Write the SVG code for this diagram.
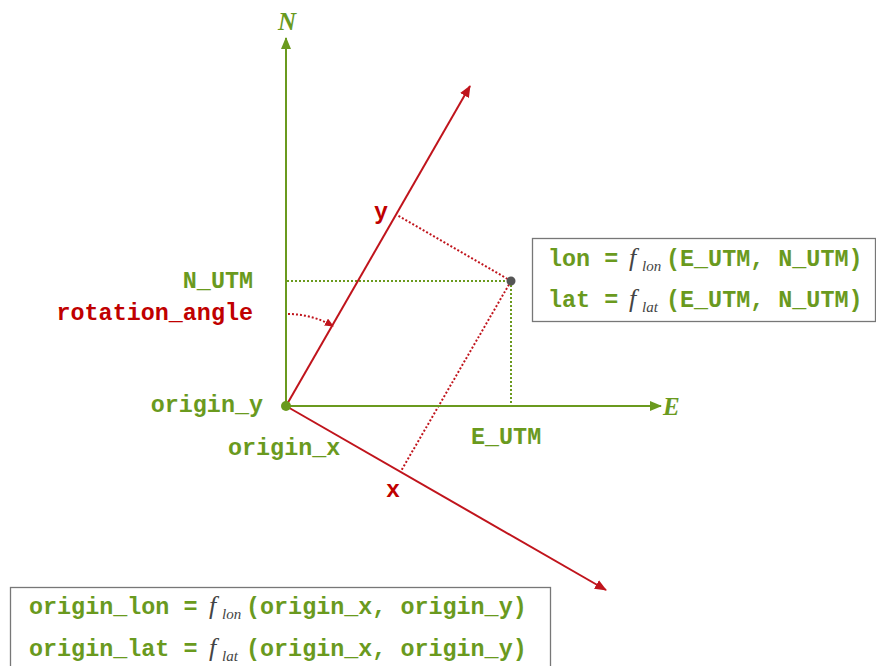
<svg xmlns="http://www.w3.org/2000/svg" width="876" height="666" viewBox="0 0 876 666">
<defs>
<style>
.g{fill:#6a9a1e}
.r{fill:#c00000}
.mono{font-family:"Liberation Mono","Courier New",monospace;font-weight:bold;font-size:23.4px}
.ax{font-family:"Liberation Serif","Times New Roman",serif;font-weight:bold;font-style:italic;font-size:25px}
.fn{font-family:"Liberation Serif","Times New Roman",serif;font-style:italic;font-weight:normal;fill:#444}
.f{font-size:26px}
.sub{font-size:15px}
.gl{stroke:#6a9a1e;stroke-width:2;fill:none}
.rl{stroke:#c0141c;stroke-width:2;fill:none}
.gd{stroke:#6a9a1e;stroke-width:2;stroke-dasharray:2 2;fill:none}
.rd{stroke:#c0141c;stroke-width:2;stroke-dasharray:2 2;fill:none}
.box{fill:#fff;stroke:#777;stroke-width:1.3}
</style>
<marker id="ag" markerUnits="userSpaceOnUse" markerWidth="12" markerHeight="10" refX="11" refY="5" orient="auto"><path d="M0,0 L12,5 L0,10 Z" fill="#6a9a1e"/></marker>
<marker id="ar" markerUnits="userSpaceOnUse" markerWidth="12" markerHeight="10" refX="11" refY="5" orient="auto"><path d="M0,0 L12,5 L0,10 Z" fill="#c0141c"/></marker>
<marker id="ars" markerUnits="userSpaceOnUse" markerWidth="9" markerHeight="8" refX="8" refY="4" orient="auto"><path d="M0,0 L9,4 L0,8 Z" fill="#c0141c"/></marker>
</defs>
<rect width="876" height="666" fill="#fff"/>
<g id="connectors">
<line class="gd" x1="287" y1="281" x2="511" y2="281"/>
<line class="gd" x1="511" y1="281" x2="511" y2="405"/>
<line class="rd" x1="511" y1="281" x2="397" y2="215"/>
<line class="rd" x1="511" y1="281" x2="401" y2="471"/>
<line class="gl" x1="286" y1="406" x2="286" y2="38" marker-end="url(#ag)"/>
<line class="gl" x1="286" y1="406" x2="661" y2="406" marker-end="url(#ag)"/>
<line class="rl" x1="286" y1="406" x2="470" y2="86" marker-end="url(#ar)"/>
<line class="rl" x1="286" y1="406" x2="606" y2="590" marker-end="url(#ar)"/>
<path class="rd" d="M288,314 A92,92 0 0 1 333,326" marker-end="url(#ars)"/>
</g>
<g id="origin"><circle cx="286" cy="406" r="5" fill="#6a9a1e"/></g>
<g id="point"><circle cx="511" cy="281" r="4.5" fill="#555"/></g>
<g id="labels">
<text class="ax g" x="287" y="30" text-anchor="middle">N</text>
<text class="ax g" x="663" y="415">E</text>
<text class="mono r" x="381" y="219" text-anchor="middle">y</text>
<text class="mono r" x="393" y="497" text-anchor="middle">x</text>
<text class="mono g" x="253" y="288" text-anchor="end">N_UTM</text>
<text class="mono r" x="253" y="320" text-anchor="end">rotation_angle</text>
<text class="mono g" x="263" y="412" text-anchor="end">origin_y</text>
<text class="mono g" x="228" y="455">origin_x</text>
<text class="mono g" x="471" y="444">E_UTM</text>
</g>
<g id="box-utm">
<rect class="box" x="532.5" y="238.5" width="343" height="83"/>
<text class="mono g" x="548" y="266">lon =</text>
<text class="fn f" x="629" y="266">f</text>
<text class="fn sub" x="642" y="271">lon</text>
<text class="mono g" x="666" y="266">(E_UTM, N_UTM)</text>
<text class="mono g" x="548" y="307">lat =</text>
<text class="fn f" x="629" y="307">f</text>
<text class="fn sub" x="642" y="312">lat</text>
<text class="mono g" x="666" y="307">(E_UTM, N_UTM)</text>
</g>
<g id="box-origin">
<rect class="box" x="10.5" y="587.5" width="540" height="90"/>
<text class="mono g" x="29" y="614">origin_lon =</text>
<text class="fn f" x="209" y="614">f</text>
<text class="fn sub" x="222" y="619">lon</text>
<text class="mono g" x="246" y="614">(origin_x, origin_y)</text>
<text class="mono g" x="29" y="656">origin_lat =</text>
<text class="fn f" x="209" y="656">f</text>
<text class="fn sub" x="222" y="661">lat</text>
<text class="mono g" x="246" y="656">(origin_x, origin_y)</text>
</g>
</svg>
